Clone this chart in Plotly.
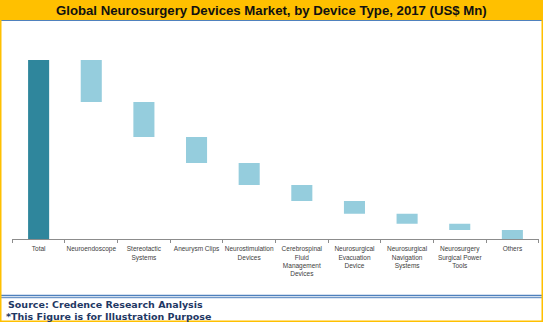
import plotly.graph_objects as go

categories = ["Total", "Neuroendoscope", "Stereotactic<br>Systems", "Aneurysm Clips",
              "Neurostimulation<br>Devices", "Cerebrospinal<br>Fluid<br>Management<br>Devices",
              "Neurosurgical<br>Evacuation<br>Device", "Neurosurgical<br>Navigation<br>Systems",
              "Neurosurgery<br>Surgical Power<br>Tools", "Others"]
total_value = 1793
segment_values = [420, 350, 260, 220, 160, 127, 100, 63, 93]

measures = ["absolute"] + ["relative"] * len(segment_values)
values = [total_value] + [-v for v in segment_values]

W, H = 543, 322
def py(p):
    return 1 - p / H

fig = go.Figure(go.Waterfall(
    x=categories, y=values, measure=measures,
    totals=dict(marker=dict(color="#2F869C")),
    decreasing=dict(marker=dict(color="#95CDDD")),
    increasing=dict(marker=dict(color="#95CDDD")),
    connector=dict(visible=False),
    width=0.4,
    hoverinfo="x+y",
))

fig.update_layout(
    width=W, height=H, margin=dict(l=0, r=0, t=0, b=0),
    paper_bgcolor="white", plot_bgcolor="white",
    showlegend=False,
    xaxis=dict(domain=[12.3 / W, 538.7 / W], showline=True, linecolor="#8C8C8C", linewidth=1,
               ticks="outside", ticklen=3, tickcolor="#8C8C8C", tickson="boundaries",
               ticklabelstandoff=3,
               tickfont=dict(family="Liberation Sans, Arial", size=6.5, color="#404040"),
               tickangle=0, showgrid=False, zeroline=False, fixedrange=True),
    yaxis=dict(domain=[py(239.3), py(39.3)], range=[0, 2000], visible=False, showgrid=False,
               zeroline=False, fixedrange=True),
    shapes=[
        dict(type="rect", xref="paper", yref="paper", x0=0, x1=1, y0=py(20), y1=1,
             fillcolor="#FFC000", line=dict(width=0), layer="below"),
        dict(type="line", xref="paper", yref="paper", x0=0, x1=1, y0=py(20.5), y1=py(20.5),
             line=dict(color="#4F81BD", width=1.2)),
        dict(type="line", xref="paper", yref="paper", x0=0, x1=1, y0=py(295.5), y1=py(295.5),
             line=dict(color="#4F81BD", width=1.5)),
        dict(type="line", xref="paper", yref="paper", x0=0, x1=1, y0=py(297.7), y1=py(297.7),
             line=dict(color="#4F81BD", width=1)),
        dict(type="rect", xref="paper", yref="paper", x0=0, x1=1, y0=0, y1=1,
             line=dict(color="#FFC000", width=3), fillcolor="rgba(0,0,0,0)"),
    ],
    annotations=[
        dict(text="<b>Global Neurosurgery Devices Market, by Device Type, 2017 (US$ Mn)</b>",
             xref="paper", yref="paper", x=0.5, y=py(10.4), xanchor="center", yanchor="middle",
             showarrow=False, font=dict(family="Liberation Sans, Arial", size=13.2, color="#111111")),
        dict(text="<b>Source: Credence Research Analysis</b>",
             xref="paper", yref="paper", x=6 / W, y=py(304), xanchor="left", yanchor="middle",
             showarrow=False, font=dict(family="DejaVu Sans, Verdana", size=9.5, color="#1F3864")),
        dict(text="<b>*This Figure is for Illustration Purpose</b>",
             xref="paper", yref="paper", x=3.5 / W, y=py(316.5), xanchor="left", yanchor="middle",
             showarrow=False, font=dict(family="DejaVu Sans, Verdana", size=9.5, color="#1F3864")),
    ],
)

fig.write_html("out.html")
